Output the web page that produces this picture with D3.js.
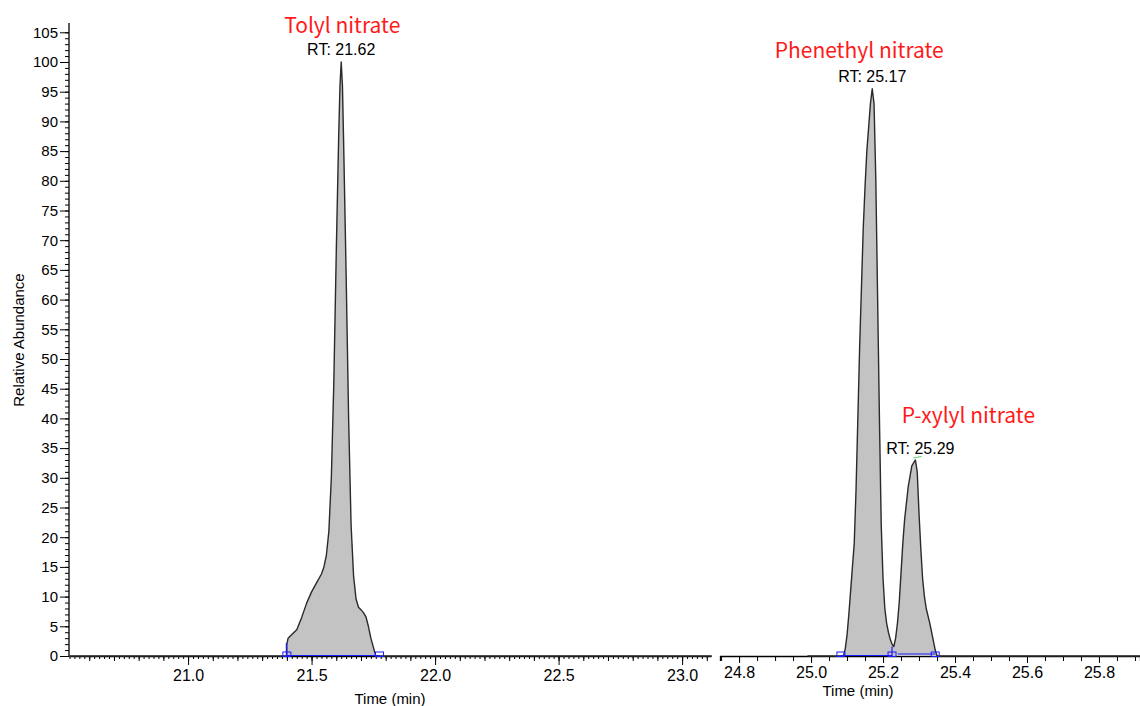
<!DOCTYPE html>
<html>
<head>
<meta charset="utf-8">
<script src="https://cdn.jsdelivr.net/npm/d3@7"></script>
<style>
html,body{margin:0;padding:0;background:#fff;}
svg{display:block;}
</style>
</head>
<body>
<svg id="chart" width="1140" height="706"></svg>
<script>
// ---------- DATA ----------
// Left panel trace (Tolyl nitrate), time in min, relative abundance in %
const leftTime  = [20.52, 21.40, 21.40, 21.405, 21.42, 21.44, 21.46, 21.48, 21.50, 21.52, 21.54, 21.55, 21.56, 21.57, 21.58, 21.59, 21.60, 21.61, 21.615, 21.62, 21.625, 21.63, 21.64, 21.65, 21.66, 21.67, 21.68, 21.69, 21.70, 21.71, 21.72, 21.73, 21.74, 21.75, 21.76, 23.12];
const leftAbund = [0,     0,     2.0,   3.0,    3.6,   4.4,   6.5,   8.9,   10.8,  12.3,  13.8,  15.0,  17.0,  21.0,  30.0,  46.0,  68.0,  88.0,  96.0,   100,   96.0,   86.0,  64.0,  40.0,  22.0,  13.5,  9.6,   8.2,   7.8,   7.3,   6.6,   5.0,   3.0,   1.5,   0,     0];
// Right panel trace (Phenethyl nitrate + P-xylyl nitrate)
const rightTime  = [24.99, 25.09, 25.095, 25.10, 25.105, 25.11, 25.115, 25.12, 25.125, 25.13, 25.135, 25.14, 25.145, 25.15, 25.155, 25.16, 25.165, 25.17, 25.175, 25.18, 25.185, 25.19, 25.195, 25.20, 25.205, 25.21, 25.215, 25.22, 25.225, 25.23, 25.235, 25.24, 25.245, 25.25, 25.255, 25.26, 25.27, 25.28, 25.29, 25.295, 25.30, 25.305, 25.31, 25.315, 25.32, 25.33, 25.34, 25.345, 25.35, 25.92];
const rightAbund = [0,     0,     1.2,    3.5,   7.0,    11.0,  15.0,   19.0,  28.0,   40.0,  52.0,   62.0,  72.0,   79.0,  85.0,   89.0,  93.0,   95.5,  93.0,   80.0,  60.0,   40.0,  22.0,   13.0,  8.0,    5.5,   4.0,    2.8,   2.0,    1.6,   3.0,    5.5,   9.0,    14.0,  19.0,   23.0,  28.5,  32.0,  33.0,  31.0,   24.0,  18.0,   13.0,  10.0,   8.0,   5.5,   2.5,   1.0,    0,     0];

// Peak annotations
const peakNames = ["Tolyl nitrate", "Phenethyl nitrate", "P-xylyl nitrate"];
const peakRT    = [21.62, 25.17, 25.29];
const peakAbund = [100, 95.5, 33];
const peakPanel = ["left", "right", "right"];

// Integration boundaries (blue markers)
const leftBounds  = [21.40, 21.775];
const rightBounds = [25.083, 25.225, 25.345];

// Axis ticks / labels
const yTickLabels     = ["0","5","10","15","20","25","30","35","40","45","50","55","60","65","70","75","80","85","90","95","100","105"];
const leftTickLabels  = ["21.0","21.5","22.0","22.5","23.0"];
const rightTickLabels = ["24.8","25.0","25.2","25.4","25.6","25.8"];
const xTitle = "Time (min)";
const yTitle = "Relative Abundance";

// ---------- LAYOUT ----------
const svg = d3.select("#chart");
const baseY = 656;
const y  = d3.scaleLinear().domain([0, 105]).range([baseY, 32.3]);
const xL = d3.scaleLinear().domain([20.518, 23.117]).range([69, 711]);
const xR = d3.scaleLinear().domain([24.747, 25.914]).range([720, 1140]);

const tickFont = "'Liberation Sans', Arial, sans-serif";
const labelFont = "'Noto Sans CJK SC', 'Microsoft YaHei', sans-serif";

function styleAxis(g, hideLabels, fs) {
  g.select(".domain").attr("stroke", "#000").attr("stroke-width", 1.3);
  g.selectAll(".tick line").attr("stroke", "#000").attr("stroke-width", 1);
  g.selectAll(".tick text").attr("font-family", tickFont).attr("font-size", fs || 15).attr("fill", "#000");
  if (hideLabels) g.selectAll(".tick text").remove();
}

// ---------- Y AXIS ----------
const yMinor = d3.range(0, 106, 1);
svg.append("g").attr("transform", "translate(69,0)")
  .call(d3.axisLeft(y).tickValues(yMinor).tickSize(4).tickFormat(""))
  .call(g => { styleAxis(g, true); g.select(".domain").remove(); });
svg.append("g").attr("transform", "translate(69,0)")
  .call(d3.axisLeft(y).tickValues(yTickLabels.map(Number)).tickSize(9).tickPadding(2).tickFormat((d, i) => yTickLabels[i]))
  .call(g => { styleAxis(g, false, 15); g.select(".domain").remove(); });
svg.append("line").attr("x1", 69).attr("x2", 69).attr("y1", 23).attr("y2", baseY)
  .attr("stroke", "#000").attr("stroke-width", 1.3);

svg.append("text")
  .attr("transform", `translate(24,${340}) rotate(-90)`)
  .attr("text-anchor", "middle")
  .attr("font-family", tickFont).attr("font-size", 15)
  .text(yTitle);

// ---------- LEFT X AXIS ----------
const leftMinor = d3.range(20.52, 23.117, 0.02).map(v => +v.toFixed(2));
const leftMed = d3.range(20.6, 23.117, 0.1).map(v => +v.toFixed(1));
svg.append("g").attr("transform", `translate(0,${baseY})`)
  .call(d3.axisBottom(xL).tickValues(leftMinor).tickSize(3).tickFormat("").tickSizeOuter(0))
  .call(g => styleAxis(g, true));
svg.append("g").attr("transform", `translate(0,${baseY})`)
  .call(d3.axisBottom(xL).tickValues(leftMed).tickSize(5).tickFormat("").tickSizeOuter(0))
  .call(g => { styleAxis(g, true); g.select(".domain").remove(); });
svg.append("g").attr("transform", `translate(0,${baseY})`)
  .call(d3.axisBottom(xL).tickValues(leftTickLabels.map(Number)).tickSize(9).tickPadding(5).tickFormat((d, i) => leftTickLabels[i]).tickSizeOuter(0))
  .call(g => { styleAxis(g, false, 16); g.select(".domain").remove(); });

svg.append("text").attr("x", 390).attr("y", 704).attr("text-anchor", "middle")
  .attr("font-family", tickFont).attr("font-size", 15).text(xTitle);

// ---------- RIGHT X AXIS ----------
const rightMinor = d3.range(24.75, 25.914, 0.05).map(v => +v.toFixed(2));
svg.append("g").attr("transform", `translate(0,${baseY})`)
  .call(d3.axisBottom(xR).tickValues(rightMinor).tickSize(5).tickFormat("").tickSizeOuter(5))
  .call(g => styleAxis(g, true));
svg.append("g").attr("transform", `translate(0,${baseY})`)
  .call(d3.axisBottom(xR).tickValues(rightTickLabels.map(Number)).tickSize(7).tickPadding(4).tickFormat((d, i) => rightTickLabels[i]).tickSizeOuter(0))
  .call(g => { styleAxis(g, false, 16); g.select(".domain").remove(); });

svg.append("text").attr("x", 858).attr("y", 696).attr("text-anchor", "middle")
  .attr("font-family", tickFont).attr("font-size", 15).text(xTitle);

// ---------- TRACES ----------
function drawTrace(times, abund, xs, fillFrom, fillTo) {
  const pts = times.map((t, i) => [t, abund[i]]);
  const fillPts = pts.filter(p => p[0] >= fillFrom && p[0] <= fillTo);
  const area = d3.area().x(d => xs(d[0])).y0(baseY).y1(d => y(d[1]));
  svg.append("path").datum(fillPts).attr("d", area).attr("fill", "#c3c3c3").attr("stroke", "none");
  const line = d3.line().x(d => xs(d[0])).y(d => y(d[1]));
  svg.append("path").datum(pts).attr("d", line).attr("fill", "none")
    .attr("stroke", "#2a2a2a").attr("stroke-width", 1.4).attr("stroke-linejoin", "round");
}
drawTrace(leftTime, leftAbund, xL, 21.40, 21.76);
drawTrace(rightTime, rightAbund, xR, 25.09, 25.35);

// ---------- INTEGRATION MARKERS ----------
const blue = "#1a1aff";
function boundBox(xs, t) {
  svg.append("rect").attr("x", xs(t) - 4).attr("y", baseY - 4).attr("width", 8).attr("height", 4.5)
    .attr("fill", "none").attr("stroke", blue).attr("stroke-width", 1);
}
// left panel
svg.append("line").attr("x1", xL(leftBounds[0])).attr("x2", xL(leftBounds[1])).attr("y1", baseY - 0.5).attr("y2", baseY - 0.5)
  .attr("stroke", blue).attr("stroke-width", 1.2);
svg.append("line").attr("x1", xL(leftBounds[0]) - 0.5).attr("x2", xL(leftBounds[0]) - 0.5).attr("y1", baseY).attr("y2", y(2.2))
  .attr("stroke", blue).attr("stroke-width", 1.2);
leftBounds.forEach(t => boundBox(xL, t));
// right panel
svg.append("line").attr("x1", xR(rightBounds[0])).attr("x2", xR(rightBounds[1])).attr("y1", baseY - 0.5).attr("y2", baseY - 0.5)
  .attr("stroke", blue).attr("stroke-width", 1.2);
svg.append("line").attr("x1", xR(rightBounds[1]) + 6).attr("x2", xR(rightBounds[2])).attr("y1", baseY - 2).attr("y2", baseY - 2)
  .attr("stroke", blue).attr("stroke-width", 1.2);
svg.append("line").attr("x1", xR(rightBounds[1])).attr("x2", xR(rightBounds[1])).attr("y1", baseY).attr("y2", y(1.6))
  .attr("stroke", blue).attr("stroke-width", 1.2);
rightBounds.forEach(t => boundBox(xR, t));

// green apex mark on P-xylyl peak
svg.append("line").attr("x1", xR(peakRT[2]) - 2).attr("x2", xR(peakRT[2]) + 6).attr("y1", y(peakAbund[2]) - 2).attr("y2", y(peakAbund[2]) - 3.5)
  .attr("stroke", "#5ccf5c").attr("stroke-width", 1);

// ---------- ANNOTATIONS ----------
const nameOffsets = [[1, -29], [-13, -31], [53, -37]];
const rtOffsets   = [[0, -7], [0, -7], [5, -6]];
peakNames.forEach((name, i) => {
  const xs = peakPanel[i] === "left" ? xL : xR;
  const px = xs(peakRT[i]), py = y(peakAbund[i]);
  svg.append("text").attr("x", px + rtOffsets[i][0]).attr("y", py + rtOffsets[i][1])
    .attr("text-anchor", "middle").attr("font-family", tickFont).attr("font-size", 16).attr("fill", "#000")
    .text("RT: " + peakRT[i].toFixed(2));
  svg.append("text").attr("x", px + nameOffsets[i][0]).attr("y", py + nameOffsets[i][1])
    .attr("text-anchor", "middle").attr("font-family", labelFont).attr("font-size", 21).attr("fill", "#ff1a1a")
    .text(name);
});
</script>
</body>
</html>
